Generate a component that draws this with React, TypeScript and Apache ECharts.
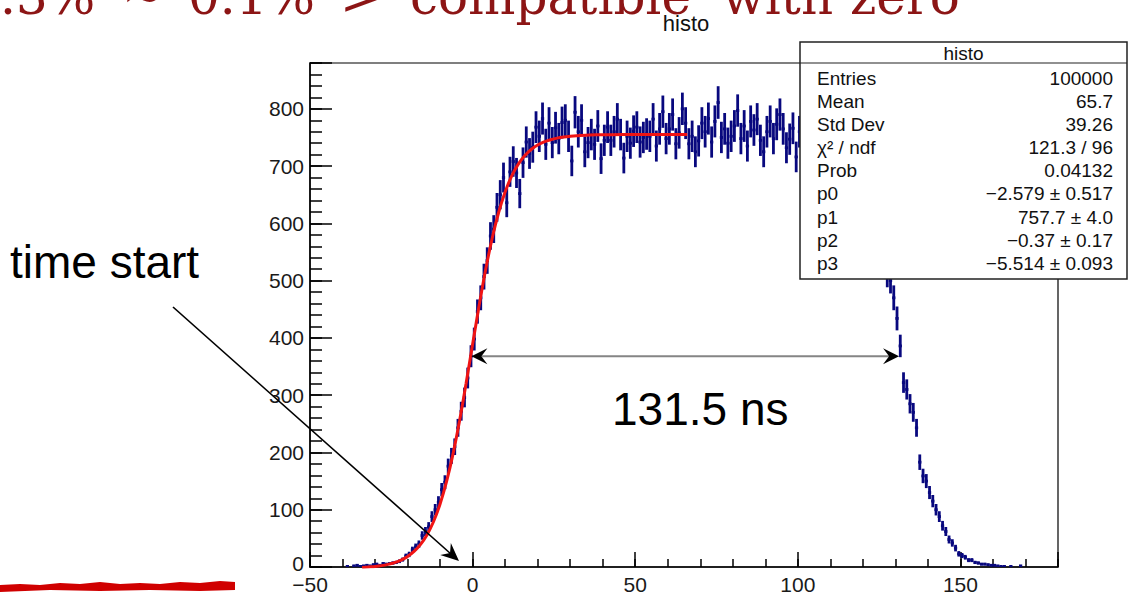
import { useEffect, useRef } from "react";
import * as echarts from "echarts";

// Histogram "histo": 1 ns bins, first bin starts at -40 ns
const binLow = -40;
const counts = [
  0, 1, 0, 2, 3, 1, 2, 3, 2, 4,
  5, 3, 6, 5, 6, 7, 8, 10, 13, 19,
  22, 30, 35, 40, 55, 62, 70, 88, 100, 113,
  135, 148, 176, 194, 210, 243, 272, 296, 330, 368,
  398, 446, 470, 507, 535, 578, 590, 628, 650, 680,
  636, 690, 708, 688, 652, 706, 742, 722, 733, 768,
  752, 783, 738, 775, 741, 767, 748, 776, 780, 752,
  709, 794, 760, 780, 725, 741, 755, 738, 770, 713,
  745, 768, 745, 760, 782, 755, 714, 752, 740, 761,
  768, 742, 750, 756, 752, 782, 735, 765, 795, 748,
  765, 790, 739, 758, 800, 775, 739, 752, 725, 744,
  775, 760, 783, 742, 778, 811, 750, 765, 740, 752,
  770, 797, 748, 770, 735, 778, 763, 782, 745, 725,
  760, 778, 748, 773, 790, 765, 732, 747, 766, 716,
  760, 745, 772, 738, 755, 781, 742, 768, 750, 735,
  762, 748, 770, 741, 756, 735, 752, 730, 745, 720,
  712, 690, 665, 640, 600, 575, 540, 511, 500, 470,
  434, 386, 322, 310, 285, 270, 243, 183, 159, 150,
  130, 115, 100, 88, 72, 62, 48, 42, 33, 23,
  20, 17, 12, 12, 8, 7, 5, 5, 4, 3,
  3, 2, 1, 1, 0, 1, 0, 0, 2, 0,
];

// Fitted rising edge (red curve)
const fitX = [-34, -32, -30, -28, -26, -24, -22, -20, -18, -16, -14, -12, -10, -8, -6, -4, -2, 0, 2, 4, 6, 8, 10, 12, 14, 16, 18, 20, 22, 24, 26, 28, 30, 32, 36, 40, 46, 56, 66];
const fitY = [-1, 0, 1, 2.4, 4.6, 7.7, 12.1, 18.4, 27.2, 39.4, 56.4, 79.4, 110, 149.3, 198, 255.8, 320.7, 389, 456.4, 519, 573.6, 619, 654.8, 682.5, 703, 718, 729, 736.7, 742.2, 746, 748.8, 750.7, 752, 753, 754.5, 754.6, 755, 755.1, 755.1];

// Statistics box
const statLabels = ["Entries", "Mean", "Std Dev", "\u03c7\u00b2 / ndf", "Prob", "p0", "p1", "p2", "p3"];
const statValues = ["100000", "65.7", "39.26", "121.3 / 96", "0.04132", "\u22122.579 \u00b1 0.517", "757.7 \u00b1 4.0", "\u22120.37 \u00b1 0.17", "\u22125.514 \u00b1 0.093"];

// Slide header fragment, word by word
const headerWords = [".3%", "~", "0.1%", ">", "compatible", "with", "zero"];
const headerLeft = [0, 122, 188, 340, 410, 722, 850];

// Width annotation: from the fitted half-height point p2 over the measured width
const edgeCenter = -0.37;
const widthNs = 131.5;
const widthArrowLevel = 368;

// Axis ranges and tick steps
const xRange = [-50, 180];
const yRange = [0, 880];
const xMajor = 50;
const xMinor = 10;
const yMajor = 100;
const yMinor = 20;

const SANS = '"Liberation Sans", Arial, Helvetica, sans-serif';
const SERIF = '"DejaVu Serif", serif';
const NAVY = "#08087e";
const FIT_RED = "#f01414";

function arrowHead(tip: number[], from: number[], len = 17, half = 8, notch = 11) {
  const dx = tip[0] - from[0];
  const dy = tip[1] - from[1];
  const L = Math.hypot(dx, dy) || 1;
  const ux = dx / L;
  const uy = dy / L;
  const nx = -uy;
  const ny = ux;
  const bx = tip[0] - ux * len;
  const by = tip[1] - uy * len;
  return [
    [tip[0], tip[1]],
    [bx + nx * half, by + ny * half],
    [tip[0] - ux * notch, tip[1] - uy * notch],
    [bx - nx * half, by - ny * half],
  ];
}

const minus = (v: number) => String(v).replace("-", "\u2212");

export default function App() {
  const ref = useRef<HTMLDivElement>(null);

  useEffect(() => {
    if (!ref.current) return;
    const chart = echarts.init(ref.current, undefined, { renderer: "svg" });

    const histData = counts.map((n, i) => [binLow + i + 0.5, n]);
    const fitData = fitX.map((x, i) => [x, fitY[i]]);

    const axisLineStyle = { color: "#000", width: 1.5 };

    // time-start annotation arrow (slide coordinates)
    const tsFrom = [173, 307];
    const tsTip = [459, 561];

    const boxL = 800, boxT = 42, boxR = 1127, boxB = 279;

    const graphics: any[] = [
      // slide header fragment
      ...headerWords.map((t, i) => ({
        type: "text",
        x: headerLeft[i],
        y: -3,
        z: 100,
        style: { text: t, fontFamily: SERIF, fontSize: 50, fill: "#8c1515", align: "left", verticalAlign: "middle" },
      })),
      // pad title
      {
        type: "text",
        x: 686,
        y: 23,
        z: 100,
        style: { text: "histo", fontFamily: SANS, fontSize: 22, fill: "#111", align: "center", verticalAlign: "middle" },
      },
      // statistics box
      {
        type: "rect",
        z: 100,
        shape: { x: boxL, y: boxT, width: boxR - boxL, height: boxB - boxT },
        style: { fill: "#fff", stroke: "#222", lineWidth: 1.5 },
      },
      {
        type: "line",
        z: 101,
        shape: { x1: boxL, y1: 63, x2: boxR, y2: 63 },
        style: { stroke: "#222", lineWidth: 1.2 },
      },
      {
        type: "text",
        x: (boxL + boxR) / 2,
        y: 53,
        z: 101,
        style: { text: "histo", fontFamily: SANS, fontSize: 19, fill: "#111", align: "center", verticalAlign: "middle" },
      },
      ...statLabels.map((t, i) => ({
        type: "text",
        x: 817,
        y: 78.4 + 23.1 * i,
        z: 101,
        style: { text: t, fontFamily: SANS, fontSize: 19, fill: "#111", align: "left", verticalAlign: "middle" },
      })),
      ...statValues.map((t, i) => ({
        type: "text",
        x: 1113,
        y: 78.4 + 23.1 * i,
        z: 101,
        style: { text: t, fontFamily: SANS, fontSize: 19, fill: "#111", align: "right", verticalAlign: "middle" },
      })),
      // "time start" label and arrow
      {
        type: "text",
        x: 10,
        y: 262,
        z: 100,
        style: { text: "time start", fontFamily: SANS, fontSize: 46, fill: "#000", align: "left", verticalAlign: "middle" },
      },
      {
        type: "line",
        z: 100,
        shape: { x1: tsFrom[0], y1: tsFrom[1], x2: tsTip[0] - 8, y2: tsTip[1] - 7 },
        style: { stroke: "#000", lineWidth: 1.6 },
      },
      {
        type: "polygon",
        z: 100,
        shape: { points: arrowHead(tsTip, tsFrom, 18, 8, 12) },
        style: { fill: "#000" },
      },
      // width label
      {
        type: "text",
        x: 612,
        y: 409,
        z: 100,
        style: { text: "131.5 ns", fontFamily: SANS, fontSize: 46, fill: "#000", align: "left", verticalAlign: "middle" },
      },
      // red marker stroke at the lower left
      {
        type: "polygon",
        z: 100,
        shape: {
          points: [
            [0, 585], [20, 584], [40, 585], [60, 583], [80, 584], [100, 582], [120, 584], [140, 583],
            [160, 584], [180, 582], [200, 583], [220, 581], [235, 582],
            [235, 590], [200, 591], [150, 590], [100, 591], [50, 590], [0, 592],
          ],
        },
        style: { fill: "#d00000" },
      },
    ];

    const option: any = {
      animation: false,
      backgroundColor: "#fff",
      textStyle: { fontFamily: SANS },
      grid: { left: 310, right: 72, top: 63, bottom: 23, show: true, borderColor: "#000", borderWidth: 1.2, backgroundColor: "transparent" },
      xAxis: [
        {
          type: "value",
          min: xRange[0],
          max: xRange[1],
          interval: xMajor,
          position: "bottom",
          axisLine: { show: true, onZero: false, lineStyle: axisLineStyle },
          axisTick: { show: true, inside: true, length: 15, lineStyle: axisLineStyle },
          axisLabel: {
            margin: 7,
            fontSize: 21,
            color: "#1a1a1a",
            fontFamily: SANS,
            formatter: (v: number) => (v % xMajor === 0 ? minus(v) : ""),
          },
          splitLine: { show: false },
        },
        {
          type: "value",
          min: xRange[0],
          max: xRange[1],
          interval: xMinor,
          position: "bottom",
          axisLine: { show: false, onZero: false },
          axisTick: { show: true, inside: true, length: 8, lineStyle: axisLineStyle },
          axisLabel: { show: false },
          splitLine: { show: false },
        },
      ],
      yAxis: [
        {
          type: "value",
          min: yRange[0],
          max: yRange[1],
          interval: yMajor,
          position: "left",
          axisLine: { show: true, onZero: false, lineStyle: axisLineStyle },
          axisTick: { show: true, inside: true, length: 22, lineStyle: axisLineStyle },
          axisLabel: {
            margin: 6,
            fontSize: 21,
            color: "#1a1a1a",
            fontFamily: SANS,
            formatter: (v: number) => (v === 0 ? "{z|0}" : v % yMajor === 0 ? String(v) : ""),
            rich: { z: { fontSize: 21, color: "#1a1a1a", fontFamily: SANS, padding: [0, 0, 7, 0] } },
          },
          splitLine: { show: false },
        },
        {
          type: "value",
          min: yRange[0],
          max: yRange[1],
          interval: yMinor,
          position: "left",
          axisLine: { show: false, onZero: false },
          axisTick: { show: true, inside: true, length: 12, lineStyle: axisLineStyle },
          axisLabel: { show: false },
          splitLine: { show: false },
        },
      ],
      series: [
        {
          type: "custom",
          name: "histo",
          xAxisIndex: 0,
          yAxisIndex: 0,
          z: 3,
          clip: true,
          encode: { x: 0, y: 1 },
          data: histData,
          renderItem: (_p: any, api: any) => {
            const x = api.value(0);
            const n = api.value(1);
            if (!(n > 0)) return null;
            const e = Math.sqrt(n);
            const top = api.coord([x, n + e]);
            const bot = api.coord([x, Math.max(n - e, 0)]);
            const l = api.coord([x - 0.5, n]);
            const r = api.coord([x + 0.5, n]);
            const style = { stroke: NAVY, lineWidth: 2.8 };
            return {
              type: "group",
              children: [
                { type: "line", shape: { x1: top[0], y1: top[1], x2: bot[0], y2: bot[1] }, style },
                { type: "line", shape: { x1: l[0], y1: l[1], x2: r[0], y2: r[1] }, style },
              ],
            };
          },
        },
        {
          type: "line",
          name: "fit",
          xAxisIndex: 0,
          yAxisIndex: 0,
          z: 4,
          data: fitData,
          smooth: 0.3,
          showSymbol: false,
          lineStyle: { color: FIT_RED, width: 3 },
        },
        {
          type: "custom",
          name: "width",
          xAxisIndex: 0,
          yAxisIndex: 0,
          z: 5,
          clip: false,
          encode: { x: [0, 1], y: 2 },
          data: [[edgeCenter, edgeCenter + widthNs, widthArrowLevel]],
          renderItem: (_p: any, api: any) => {
            const a = api.coord([api.value(0), api.value(2)]);
            const b = api.coord([api.value(1), api.value(2)]);
            return {
              type: "group",
              children: [
                { type: "line", shape: { x1: a[0] + 10, y1: a[1], x2: b[0] - 10, y2: b[1] }, style: { stroke: "#858585", lineWidth: 2 } },
                { type: "polygon", shape: { points: arrowHead(a, b, 16, 8, 10) }, style: { fill: "#000" } },
                { type: "polygon", shape: { points: arrowHead(b, a, 16, 8, 10) }, style: { fill: "#000" } },
              ],
            };
          },
        },
      ],
      graphic: graphics,
    };

    chart.setOption(option);
    return () => chart.dispose();
  }, []);

  return (
    <div
      ref={ref}
      style={{ position: "absolute", left: 0, top: 0, width: 1130, height: 595, background: "#fff" }}
    />
  );
}
